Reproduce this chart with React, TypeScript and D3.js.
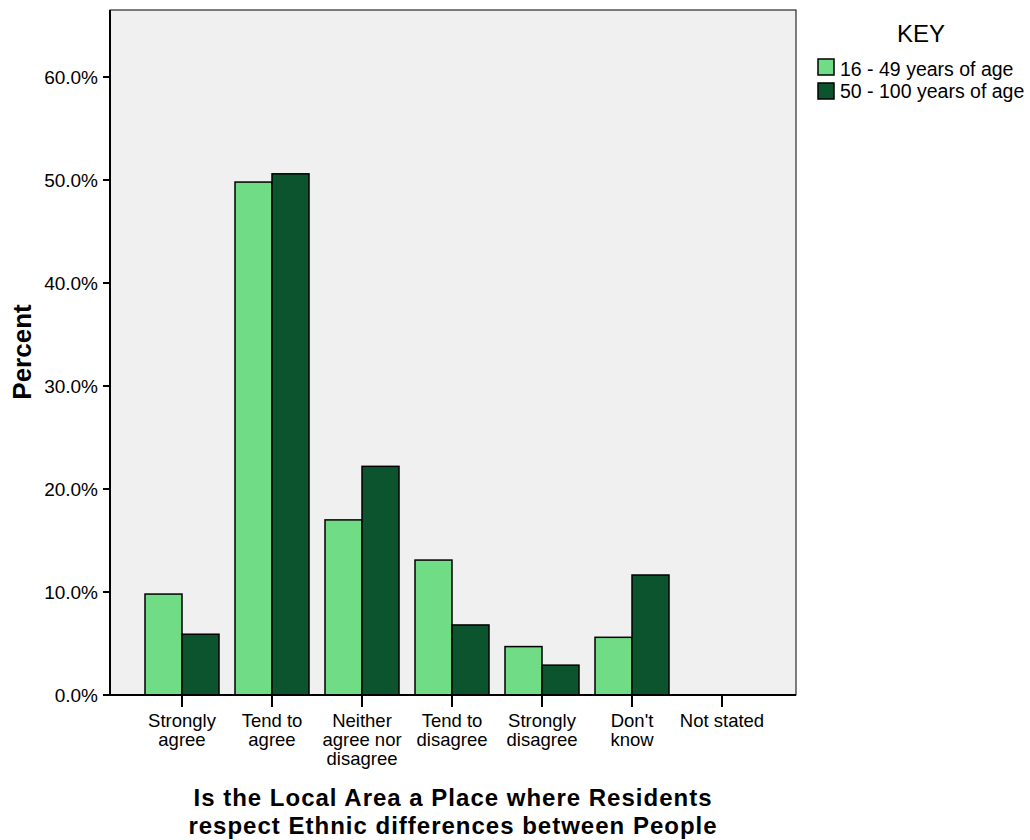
import React from "react";
import * as d3 from "d3";

const categories = [
  ["Strongly", "agree"],
  ["Tend to", "agree"],
  ["Neither", "agree nor", "disagree"],
  ["Tend to", "disagree"],
  ["Strongly", "disagree"],
  ["Don't", "know"],
  ["Not stated"],
];
const seriesNames = ["16 - 49 years of age", "50 - 100 years of age"];
const young = [9.8, 49.8, 17.0, 13.1, 4.7, 5.6, 0];
const old = [5.9, 50.6, 22.2, 6.8, 2.9, 11.65, 0];
const yTicks = [0, 10, 20, 30, 40, 50, 60];
const colors = ["#70DD86", "#0B542D"];

const W = 1030, H = 840;
const plot = { left: 110, right: 796, top: 10, bottom: 695 };

export default function App() {
  const y = d3.scaleLinear().domain([0, 60]).range([plot.bottom, 77]);
  const idx = categories.map((_, i) => String(i));
  const x = d3.scaleBand().domain(idx).range([137, 767]).paddingInner(0).paddingOuter(0);
  const inner = d3.scaleBand().domain(["0", "1"]).range([8, x.bandwidth() - 8]);
  const series = [young, old];
  const font = "'Liberation Sans', Arial, sans-serif";
  return (
    <svg width={W} height={H} style={{ position: "absolute", left: 0, top: 0 }} fontFamily={font}>
      <rect x={0} y={0} width={W} height={H} fill="#fff" />
      <rect x={plot.left} y={plot.top} width={plot.right - plot.left} height={plot.bottom - plot.top} fill="#F0F0F0" stroke="#000" strokeWidth={1} />
      {idx.map((c, i) =>
        series.map((s, j) =>
          s[i] > 0 ? (
            <rect key={c + "-" + j}
              x={(x(c) as number) + (inner(String(j)) as number)}
              y={y(s[i])}
              width={inner.bandwidth()}
              height={plot.bottom - y(s[i])}
              fill={colors[j]} stroke="#000" strokeWidth={1.5} />
          ) : null
        )
      )}
      <line x1={plot.left} x2={plot.left} y1={plot.top} y2={plot.bottom} stroke="#000" strokeWidth={2} />
      <line x1={plot.left} x2={plot.right} y1={plot.bottom} y2={plot.bottom} stroke="#000" strokeWidth={2} />
      {yTicks.map((t) => (
        <g key={t}>
          <line x1={plot.left - 7} x2={plot.left} y1={y(t)} y2={y(t)} stroke="#000" strokeWidth={2} />
          <text x={plot.left - 12} y={y(t) + 7} textAnchor="end" fontSize={19}>{t.toFixed(1) + "%"}</text>
        </g>
      ))}
      {idx.map((c, i) => {
        const cx = (x(c) as number) + x.bandwidth() / 2;
        return (
          <g key={c}>
            <line x1={cx} x2={cx} y1={plot.bottom} y2={plot.bottom + 12} stroke="#000" strokeWidth={2} />
            {categories[i].map((ln, k) => (
              <text key={k} x={cx} y={727 + k * 19} textAnchor="middle" fontSize={18.5}>{ln}</text>
            ))}
          </g>
        );
      })}
      <text transform={`translate(31,${352}) rotate(-90)`} textAnchor="middle" fontSize={26} fontWeight="bold">Percent</text>
      <text x={453} y={806} textAnchor="middle" fontSize={24} letterSpacing={1} fontWeight="bold">Is the Local Area a Place where Residents</text>
      <text x={453} y={834} textAnchor="middle" fontSize={24} letterSpacing={1} fontWeight="bold">respect Ethnic differences between People</text>
      <text x={921} y={42} textAnchor="middle" fontSize={24}>KEY</text>
      {seriesNames.map((n, j) => (
        <g key={n}>
          <rect x={818} y={59 + j * 24} width={16} height={16} fill={colors[j]} stroke="#000" strokeWidth={1.5} />
          <text x={840} y={76 + j * 22} fontSize={19.5}>{n}</text>
        </g>
      ))}
    </svg>
  );
}
